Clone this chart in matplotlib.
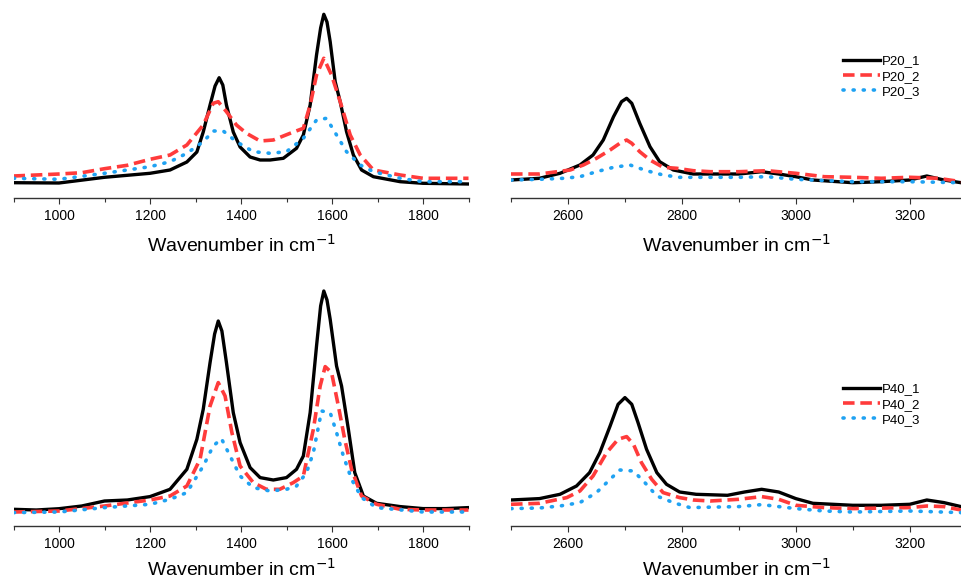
import numpy as np
import matplotlib.pyplot as plt

plt.rcParams['font.family'] = ['Liberation Sans', 'DejaVu Sans']

# ---- D / G band region, P20 samples (intensity in arbitrary units) ----
p20_dg_x1 = [900, 1000, 1100, 1200, 1244, 1281, 1303, 1317, 1332, 1343, 1352, 1360, 1368, 1383,
             1398, 1420, 1442, 1464, 1493, 1522, 1537, 1552, 1566, 1575, 1582, 1589, 1596, 1607,
             1618, 1632, 1647, 1665, 1691, 1750, 1800, 1900]
p20_dg_y1 = [15.3, 15, 20.7, 24.7, 28, 36, 46, 66, 93, 112, 120.3, 113, 93, 66,
             51, 41, 38, 38, 39.7, 49.7, 63, 93, 143, 170, 183.7, 176, 156.3, 116.3,
             96.3, 66.3, 43, 28, 21.3, 16.3, 14.7, 14]
p20_dg_x2 = [900, 1000, 1050, 1100, 1150, 1200, 1244, 1281, 1317, 1339, 1350, 1368, 1390, 1412,
             1442, 1471, 1508, 1537, 1552, 1566, 1582, 1599, 1618, 1640, 1662, 1691, 1750, 1800,
             1850, 1900]
p20_dg_y2 = [22, 24, 25.3, 29.3, 32.7, 38.7, 43, 53, 73, 94.7, 96.3, 86.3, 73, 64.7,
             57, 58, 64.7, 69.7, 93, 123, 139.7, 123, 96.3, 63, 43, 28, 23, 19.7,
             19.7, 19.7]
p20_dg_x3 = [900, 1000, 1100, 1200, 1244, 1281, 1317, 1339, 1361, 1390, 1427, 1464, 1500, 1537,
             1566, 1588, 1610, 1632, 1662, 1691, 1750, 1800, 1900]
p20_dg_y3 = [19.7, 18.7, 24.7, 31.3, 36.3, 44.7, 56.3, 67, 67, 56.3, 46.3, 44.7, 46.3, 59.7,
             78, 79.7, 63, 46.3, 33, 26.3, 19.7, 16.3, 16.3]

# ---- 2D band region, P20 samples ----
p20_2d_x1 = [2500, 2550, 2586, 2621, 2644, 2662, 2680, 2694, 2703, 2712, 2726, 2744, 2761, 2785,
             2820, 2850, 2900, 2940, 2970, 3000, 3030, 3100, 3150, 3200, 3230, 3260, 3290]
p20_2d_y1 = [18, 19.7, 24.7, 33, 43, 58, 81.3, 96.3, 99.7, 94.7, 74.7, 51.3, 36.3, 28,
             24, 24, 24, 26.3, 24, 21.3, 18, 15.3, 16.3, 18, 22, 18, 15.3]
p20_2d_x2 = [2500, 2550, 2604, 2627, 2650, 2674, 2691, 2703, 2712, 2726, 2744, 2767, 2791, 2820,
             2850, 2900, 2950, 3000, 3050, 3100, 3150, 3200, 3250, 3290]
p20_2d_y2 = [24, 24, 28, 33, 39.7, 48, 54.7, 58, 54.7, 46.3, 38, 30.7, 29.7, 27.3,
             26.3, 26.3, 27.3, 24.7, 21.3, 20.7, 19.7, 20.7, 19.7, 16.3]
p20_2d_x3 = [2500, 2550, 2592, 2621, 2650, 2680, 2709, 2738, 2767, 2796, 2900, 2950, 3000, 3100,
             3200, 3290]
p20_2d_y3 = [18, 18.7, 19.7, 21.3, 26.3, 30.7, 33, 27.3, 23, 20.7, 20.7, 21.3, 18.7, 16.3,
             16.3, 15.3]

# ---- D / G band region, P40 samples ----
p40_dg_x1 = [900, 950, 1000, 1050, 1100, 1150, 1200, 1244, 1281, 1303, 1317, 1332, 1342, 1350,
             1358, 1368, 1383, 1398, 1420, 1442, 1471, 1500, 1522, 1537, 1552, 1566, 1575, 1582,
             1589, 1596, 1610, 1621, 1636, 1650, 1669, 1698, 1750, 1800, 1850, 1900]
p40_dg_y1 = [16.7, 16, 17.3, 20, 25, 26, 29.4, 36.7, 56.7, 86.7, 116.7, 163.4, 192, 205,
             195, 163.4, 113.4, 83.4, 58.4, 48.4, 46, 48.4, 56.7, 70, 113.4, 180, 220, 235,
             226, 206.7, 160, 140, 96.7, 53.4, 30, 22.7, 19.4, 17.4, 17.4, 18.4]
p40_dg_x2 = [900, 1000, 1100, 1200, 1244, 1281, 1310, 1332, 1350, 1365, 1380, 1398, 1427, 1456,
             1485, 1515, 1537, 1559, 1574, 1585, 1599, 1614, 1628, 1643, 1665, 1698, 1750, 1800,
             1900]
p40_dg_y2 = [14, 15, 20, 26, 30, 40, 66.7, 120, 143.4, 130, 93.4, 60, 43.4, 36.7,
             36.7, 43.4, 50, 96.7, 140, 159.4, 153.4, 120, 86.7, 56.7, 30, 21.7, 16.7, 16,
             16]
p40_dg_x3 = [900, 1000, 1100, 1200, 1244, 1281, 1317, 1339, 1357, 1376, 1398, 1427, 1464, 1500,
             1522, 1544, 1559, 1577, 1596, 1610, 1625, 1643, 1665, 1698, 1800, 1900]
p40_dg_y3 = [13.4, 14, 18.4, 21.7, 26.7, 33.4, 60, 80, 87.4, 70, 50, 38.4, 35, 36.7,
             40, 53.4, 73.4, 115, 113.4, 93.4, 70, 46.7, 28.4, 18.4, 14, 14]

# ---- 2D band region, P40 samples ----
p40_2d_x1 = [2500, 2550, 2586, 2615, 2638, 2656, 2674, 2688, 2700, 2712, 2723, 2738, 2756, 2773,
             2796, 2825, 2880, 2910, 2940, 2970, 3000, 3030, 3100, 3150, 3200, 3230, 3260, 3290]
p40_2d_y1 = [26, 27.4, 31.7, 40, 53.4, 73.4, 100, 121.7, 128.4, 121.7, 103.4, 76.7, 53.4, 41.7,
             34, 31.7, 30.7, 34, 36.7, 34, 27.4, 22.7, 20.7, 20.7, 21.7, 26, 23.4, 19.4]
p40_2d_x2 = [2500, 2550, 2598, 2621, 2644, 2668, 2688, 2703, 2715, 2729, 2747, 2767, 2796, 2820,
             2850, 2900, 2940, 2970, 3000, 3050, 3100, 3200, 3230, 3260, 3290]
p40_2d_y2 = [21.7, 22.7, 28.4, 35, 50, 73.4, 86.7, 89.4, 81.7, 63.4, 46.7, 33.4, 28.4, 26,
             25, 26.7, 29.4, 26.7, 20.7, 18.4, 17.4, 18.4, 20, 19.4, 16]
p40_2d_x3 = [2500, 2550, 2586, 2621, 2650, 2674, 2691, 2715, 2735, 2756, 2785, 2814, 2900, 2940,
             3000, 3050, 3100, 3200, 3290]
p40_2d_y3 = [17.4, 18, 20, 23.4, 33.4, 46.7, 56, 55, 43.4, 30, 23.4, 18.4, 19.4, 21.4,
             17.4, 15, 14, 15, 13.4]

W, H = 961, 583
fig = plt.figure(figsize=(W / 100, H / 100), dpi=100)


def make_ax(left, right, bottom, top):
    return fig.add_axes([left / W, 1 - bottom / H, (right - left) / W, (bottom - top) / H])


def style(ax, xlim, ymax, pad):
    ax.set_xlim(*xlim)
    ax.set_ylim(0, ymax)
    for s in ['left', 'right', 'top']:
        ax.spines[s].set_visible(False)
    ax.spines['bottom'].set_linewidth(1.0)
    ax.spines['bottom'].set_color('#333333')
    ax.set_yticks([])
    ax.xaxis.set_major_locator(plt.MultipleLocator(200))
    ax.xaxis.set_minor_locator(plt.MultipleLocator(100))
    ax.tick_params(axis='x', which='major', length=4, width=0.8, labelsize=10, pad=4, color='#333333')
    ax.tick_params(axis='x', which='minor', length=3, width=0.8, color='#333333')
    ax.set_xlabel('Wavenumber in cm$^{-1}$', fontsize=14, labelpad=pad)
    ax.patch.set_alpha(0)


def draw(ax, x1, y1, x2, y2, x3, y3, names):
    ax.plot(x1, y1, color='black', lw=2.4, solid_joinstyle='round', label=names[0])
    ax.plot(x2, y2, color='#ff3b3b', lw=2.6, dashes=(3.2, 1.6), label=names[1])
    ax.plot(x3, y3, color='#1fa2f2', lw=2.6, dashes=(0.3, 2.5), dash_capstyle='round', label=names[2])


ax1 = make_ax(13.5, 468.5, 198, 10)
ax2 = make_ax(511, 961, 198, 10)
ax3 = make_ax(13.5, 468.5, 526, 279)
ax4 = make_ax(511, 961, 526, 279)

draw(ax1, p20_dg_x1, p20_dg_y1, p20_dg_x2, p20_dg_y2, p20_dg_x3, p20_dg_y3, ['P20_1', 'P20_2', 'P20_3'])
draw(ax2, p20_2d_x1, p20_2d_y1, p20_2d_x2, p20_2d_y2, p20_2d_x3, p20_2d_y3, ['P20_1', 'P20_2', 'P20_3'])
draw(ax3, p40_dg_x1, p40_dg_y1, p40_dg_x2, p40_dg_y2, p40_dg_x3, p40_dg_y3, ['P40_1', 'P40_2', 'P40_3'])
draw(ax4, p40_2d_x1, p40_2d_y1, p40_2d_x2, p40_2d_y2, p40_2d_x3, p40_2d_y3, ['P40_1', 'P40_2', 'P40_3'])

style(ax1, (900, 1900), 188, 8)
style(ax2, (2500, 3290), 188, 8)
style(ax3, (900, 1900), 247, 5)
style(ax4, (2500, 3290), 247, 5)

for ax, ytop in [(ax2, 50), (ax4, 378)]:
    ax.legend(loc='upper left', bbox_to_anchor=(838 / W, 1 - ytop / H), bbox_transform=fig.transFigure,
              frameon=False, fontsize=9.5, handlelength=2.8, handletextpad=0.15, labelspacing=0.22,
              borderaxespad=0)

fig.savefig('out.png', dpi=100)
